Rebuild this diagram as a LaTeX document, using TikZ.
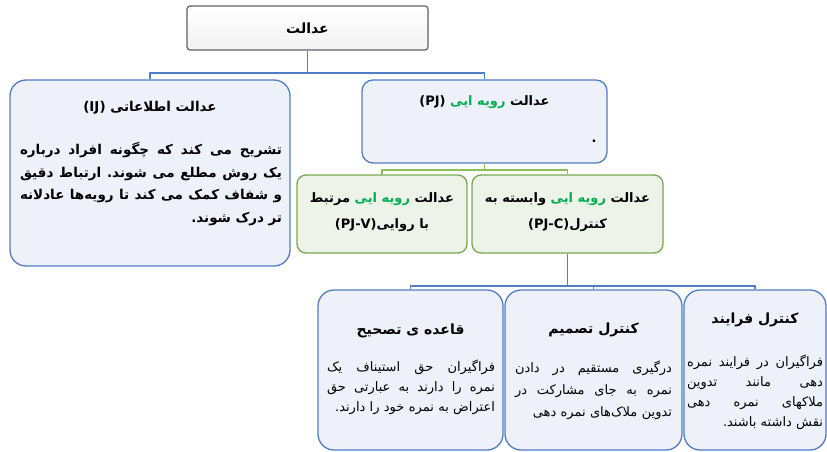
\documentclass[tikz,border=0pt]{standalone}
\usepackage{fontspec}
\TeXXeTstate=1
\newfontfamily\fa[Script=Arabic]{DejaVu Sans}
\definecolor{bbord}{HTML}{4F7EC4}
\definecolor{bfill}{HTML}{EEF0FA}
\definecolor{gbord}{HTML}{77A84B}
\definecolor{gfill}{HTML}{EEF3EA}
\definecolor{gtxt}{HTML}{00B050}
\definecolor{glin}{HTML}{8DBE5C}
\newcommand\RR[1]{\beginR #1\endR}
\newcommand\GR[1]{{\color{gtxt}\beginR #1\endR}}
% justified RTL line: words laid out right to left, gaps stretch
\def\JLrev#1 #2\JLstop{%
  \if\relax\detokenize{#2}\relax
    \RR{#1}%
  \else
    \JLrev#2\JLstop\hskip 2.5pt plus 1fill\RR{#1}%
  \fi}
\newcommand\JL[1]{\noindent\hbox to\linewidth{\JLrev#1 \JLstop}\par}
\newcommand\RL[1]{\noindent\hbox to\linewidth{\hfill\beginR #1\endR}\par}
\tikzset{
  bluebox/.style={draw=bbord, line width=1.3pt, fill=bfill, rounded corners=16pt, inner sep=0pt},
  greenbox/.style={draw=gbord, line width=1.3pt, fill=gfill, rounded corners=9pt, inner sep=0pt},
  topbox/.style={draw=gray!75!black, line width=1.2pt, top color=white, bottom color=gray!10, rounded corners=3pt, inner sep=0pt},
  bline/.style={draw=bbord, line width=1.3pt},
  gline/.style={draw=glin, line width=1.3pt},
  ttl/.style={font=\fa\bfseries\fontsize{13}{26}\selectfont, inner sep=0pt},
  bttl/.style={font=\fa\bfseries\fontsize{14}{16}\selectfont, inner sep=0pt},
  ijbody/.style={font=\fa\bfseries\fontsize{13.5}{22.7}\selectfont, inner sep=0pt},
  sbody/.style={font=\fa\fontsize{13}{20}\selectfont, inner sep=0pt},
}
\begin{document}
\begin{tikzpicture}[x=1pt,y=-1pt]
\useasboundingbox (0,0) rectangle (827,452);
% boxes
\node[topbox, minimum width=241, minimum height=44] (top) at (307.5,28) {};
\node[bluebox, minimum width=280, minimum height=186] (ij) at (150,173) {};
\node[bluebox, rounded corners=11pt, minimum width=245, minimum height=83] (pj) at (484.5,121.5) {};
\node[greenbox, minimum width=170, minimum height=78] (pjv) at (382,214) {};
\node[greenbox, minimum width=191, minimum height=78] (pjc) at (567.5,214) {};
\node[bluebox, minimum width=185, minimum height=160] (b1) at (410.5,370) {};
\node[bluebox, minimum width=177, minimum height=160] (b2) at (593.5,370) {};
\node[bluebox, minimum width=142, minimum height=160] (b3) at (755,370) {};
% connectors
\coordinate (busA) at (307.5,73);
\coordinate (busB) at (484.5,170);
\coordinate (busC) at (567.5,286);
\draw[bline] (top.south) -- (busA);
\draw[bline] (ij.north) -- (ij.north |- busA) -| (pj.north);
\draw[gline] (pj.south) -- (busB);
\draw[gline] (pjv.north) -- (pjv.north |- busB) -| (pjc.north);
\draw[bline] (pjc.south) -- (busC);
\draw[bline] (b1.north) -- (b1.north |- busC) -| (b3.north);
\draw[bline] (b2.north) -- (b2.north |- busC);
% texts
\node[ttl, font=\fa\bfseries\fontsize{14}{16}\selectfont] (topt) at (307.5,28) {\RR{عدالت}};
\node[ttl, font=\fa\bfseries\fontsize{13.5}{16}\selectfont] (ijt) at (150,108) {\RR{عدالت اطلاعاتی \beginL(IJ)\endL}};
\node[ijbody, text width=262] (ijb) at (151,184) {%
\JL{تشریح می کند که چگونه افراد درباره}%
\JL{یک روش مطلع می شوند. ارتباط دقیق}%
\JL{و شفاف کمک می کند تا رویه‌ها عادلانه}%
\RL{تر درک شوند.}};
\node[ttl] (pjt) at (484.5,102) {(PJ) \GR{رویه ایی} \RR{عدالت}};
\node[ttl] (pjdot) at (594,141) {.};
\node[ttl, align=center] (pjvt) at (382,212) {\RR{مرتبط} \GR{رویه ایی} \RR{عدالت}\\(PJ-V)\RR{با روایی}};
\node[ttl, align=center] (pjct) at (567.5,212) {\RR{وابسته به} \GR{رویه ایی} \RR{عدالت}\\(PJ-C)\RR{کنترل}};
\node[bttl] (b1t) at (410.5,331) {\RR{قاعده ی تصحیح}};
\node[sbody, text width=168] (b1b) at (411,387) {%
\JL{فراگیران حق استیناف یک}%
\JL{نمره را دارند به عبارتی حق}%
\RL{اعتراض به نمره خود را دارند.}};
\node[bttl] (b2t) at (593.5,330) {\RR{کنترل تصمیم}};
\node[sbody, text width=157, font=\fa\fontsize{13}{22}\selectfont] (b2b) at (593.5,390) {%
\JL{درگیری مستقیم در دادن}%
\JL{نمره به جای مشارکت در}%
\RL{تدوین ملاک‌های نمره دهی}};
\node[bttl] (b3t) at (755,320) {\RR{کنترل فرایند}};
\node[sbody, text width=136] (b3b) at (755,392) {%
\JL{فراگیران در فرایند نمره}%
\JL{دهی مانند تدوین}%
\JL{ملاکهای نمره دهی}%
\RL{نقش داشته باشند.}};
\end{tikzpicture}
\end{document}
